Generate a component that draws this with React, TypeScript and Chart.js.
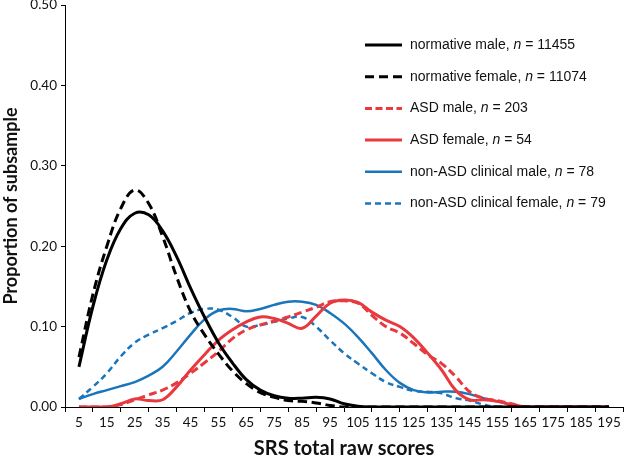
import React, { useEffect, useRef } from "react";
import { Chart, registerables } from "chart.js";

Chart.register(...registerables);

// SRS total raw score (x) at which each proportion was read
const scores = [
  5, 10, 15, 20, 25, 30, 35, 40, 45, 50, 55, 60, 65, 70, 75, 80, 85, 90, 95, 100,
  105, 110, 115, 120, 125, 130, 135, 140, 145, 150, 155, 160, 165, 170, 175, 180,
  185, 190, 195,
];

const normativeMale = [
  0.05, 0.125, 0.183, 0.222, 0.241, 0.239, 0.219, 0.187, 0.148, 0.112, 0.08, 0.055,
  0.034, 0.021, 0.014, 0.011, 0.011, 0.012, 0.01, 0.004, 0.001, 0, 0, 0, 0, 0, 0,
  0, 0, 0, 0, 0, 0, 0, 0, 0, 0, 0, 0,
];

const normativeFemale = [
  0.062, 0.14, 0.2, 0.247, 0.27, 0.253, 0.212, 0.162, 0.119, 0.09, 0.066, 0.045,
  0.029, 0.018, 0.012, 0.008, 0.007, 0.005, 0.002, 0, 0, 0, 0, 0, 0, 0, 0, 0, 0,
  0, 0, 0, 0, 0, 0, 0, 0, 0, 0,
];

const asdMale = [
  0, 0, 0, 0.003, 0.009, 0.015, 0.021, 0.03, 0.042, 0.055, 0.069, 0.085, 0.096,
  0.102, 0.107, 0.112, 0.118, 0.124, 0.131, 0.132, 0.129, 0.114, 0.1, 0.092,
  0.079, 0.065, 0.054, 0.038, 0.019, 0.011, 0.008, 0.004, 0, 0, 0, 0, 0, 0, 0,
];

const asdFemale = [
  0, 0, 0, 0.004, 0.01, 0.008, 0.009, 0.025, 0.046, 0.065, 0.083, 0.096, 0.106,
  0.112, 0.11, 0.104, 0.098, 0.113, 0.129, 0.133, 0.13, 0.118, 0.108, 0.1, 0.086,
  0.067, 0.046, 0.021, 0.009, 0.009, 0.007, 0.003, 0, 0, 0, 0, 0, 0, 0,
];

const nonAsdMale = [
  0.01, 0.016, 0.021, 0.026, 0.031, 0.039, 0.05, 0.069, 0.09, 0.109, 0.12, 0.122,
  0.119, 0.122, 0.127, 0.131, 0.131, 0.127, 0.117, 0.104, 0.087, 0.067, 0.046,
  0.03, 0.021, 0.018, 0.019, 0.019, 0.016, 0.011, 0.007, 0.003, 0, 0, 0, 0, 0, 0,
  0,
];

const nonAsdFemale = [
  0.01, 0.025, 0.042, 0.063, 0.08, 0.09, 0.098, 0.107, 0.117, 0.122, 0.121,
  0.112, 0.1, 0.102, 0.106, 0.11, 0.112, 0.1, 0.083, 0.067, 0.054, 0.042, 0.031,
  0.025, 0.02, 0.019, 0.017, 0.011, 0.008, 0.003, 0, 0, 0, 0, 0, 0, 0, 0, 0,
];

const seriesLabels = [
  "normative male, n = 11455",
  "normative female, n = 11074",
  "ASD male, n = 203",
  "ASD female, n = 54",
  "non-ASD clinical male, n = 78",
  "non-ASD clinical female, n = 79",
];

const yTicks = [0, 0.1, 0.2, 0.3, 0.4, 0.5];

const BLACK = "#000000";
const RED = "#e8393f";
const BLUE = "#1b75bb";

const toPoints = (vals: number[]) => scores.map((x, i) => ({ x, y: vals[i] }));

const legendPlugin = {
  id: "customLegend",
  afterDraw(chart: any) {
    const ctx = chart.ctx as CanvasRenderingContext2D;
    ctx.save();
    const x0 = 365;
    const x1 = 402;
    const tx = 410;
    const top = 45;
    const step = 31.7;
    chart.data.datasets.forEach((ds: any, i: number) => {
      const y = top + i * step;
      ctx.strokeStyle = ds.borderColor;
      ctx.lineWidth = ds.borderWidth;
      ctx.setLineDash(ds.legendDash || []);
      ctx.lineCap = "butt";
      ctx.beginPath();
      ctx.moveTo(x0, y);
      ctx.lineTo(x1, y);
      ctx.stroke();
      ctx.setLineDash([]);
      const [prefix, count] = String(ds.label).split(", n = ");
      ctx.fillStyle = "#111";
      ctx.textBaseline = "middle";
      ctx.textAlign = "left";
      ctx.font = "14px 'Liberation Sans', Arial, sans-serif";
      let x = tx;
      const a = prefix + ", ";
      ctx.fillText(a, x, y);
      x += ctx.measureText(a).width;
      ctx.font = "italic 14px 'Liberation Sans', Arial, sans-serif";
      ctx.fillText("n", x, y);
      x += ctx.measureText("n").width;
      ctx.font = "14px 'Liberation Sans', Arial, sans-serif";
      ctx.fillText(" = " + count, x, y);
    });
    ctx.restore();
  },
};

export default function App() {
  const ref = useRef<HTMLCanvasElement | null>(null);

  useEffect(() => {
    if (!ref.current) return;
    const mk = (
      label: string,
      vals: number[],
      color: string,
      width: number,
      dash: number[],
      legendDash: number[]
    ) => ({
      label,
      data: toPoints(vals),
      borderColor: color,
      backgroundColor: color,
      borderWidth: width,
      borderDash: dash,
      legendDash,
      pointRadius: 0,
      fill: false,
      tension: 0.4,
    });

    const chart = new Chart(ref.current, {
      type: "line",
      data: {
        datasets: [
          mk(seriesLabels[0], normativeMale, BLACK, 3, [], []),
          mk(seriesLabels[1], normativeFemale, BLACK, 3, [9, 5], [9, 5]),
          mk(seriesLabels[2], asdMale, RED, 3, [8, 4], [7, 3.5]),
          mk(seriesLabels[3], asdFemale, RED, 3, [], []),
          mk(seriesLabels[4], nonAsdMale, BLUE, 2.5, [], []),
          mk(seriesLabels[5], nonAsdFemale, BLUE, 2.5, [6, 4], [6, 4]),
        ],
      },
      options: {
        animation: false,
        responsive: false,
        devicePixelRatio: 1,
        layout: { padding: { top: 5, right: 2, left: 0, bottom: 0 } },
        plugins: {
          legend: { display: false },
          tooltip: { enabled: false },
        },
        scales: {
          x: {
            type: "linear",
            min: 0,
            max: 200,
            afterFit: (s: any) => {
              s.height = 52;
              s.paddingLeft = 0;
              s.paddingRight = 0;
            },
            afterBuildTicks: (s: any) => {
              const t = [];
              for (let v = 0; v <= 200; v += 5) t.push({ value: v });
              s.ticks = t;
            },
            ticks: {
              autoSkip: false,
              maxRotation: 0,
              padding: 3,
              color: "#111",
              font: { family: "Lato", size: 13.5 },
              callback: (v: any) => (Number(v) % 10 === 5 ? String(v) : ""),
            },
            grid: {
              drawOnChartArea: false,
              drawTicks: true,
              tickLength: 5,
              tickWidth: 1,
              tickColor: (c: any) =>
                c.tick && c.tick.value % 10 === 0 ? "#000" : "rgba(0,0,0,0)",
            },
            border: { display: true, color: "#000", width: 1 },
            title: {
              display: true,
              text: "SRS total raw scores",
              color: "#111",
              font: { family: "Lato", size: 20, weight: "bold", lineHeight: 1 },
              padding: { top: 0, bottom: 0 },
            },
          },
          y: {
            type: "linear",
            min: 0,
            max: 0.5,
            afterFit: (s: any) => {
              s.width = 65;
              s.paddingTop = 0;
              s.paddingBottom = 0;
            },
            afterBuildTicks: (s: any) => {
              s.ticks = yTicks.map((v) => ({ value: v }));
            },
            ticks: {
              padding: 4,
              color: "#111",
              font: { family: "Lato", size: 13.5 },
              callback: (v: any) => Number(v).toFixed(2),
            },
            grid: {
              drawOnChartArea: false,
              drawTicks: true,
              tickLength: 4,
              tickColor: "#000",
            },
            border: { display: true, color: "#000", width: 1 },
            title: {
              display: true,
              text: "Proportion of subsample",
              color: "#111",
              font: { family: "Lato", size: 18, weight: "bold" },
              padding: { top: 0, bottom: 0 },
            },
          },
        },
      },
      plugins: [legendPlugin],
    } as any);
    return () => chart.destroy();
  }, []);

  return (
    <div style={{ position: "absolute", left: 0, top: 0, width: 625, height: 459 }}>
      <canvas ref={ref} width={625} height={459} />
    </div>
  );
}
